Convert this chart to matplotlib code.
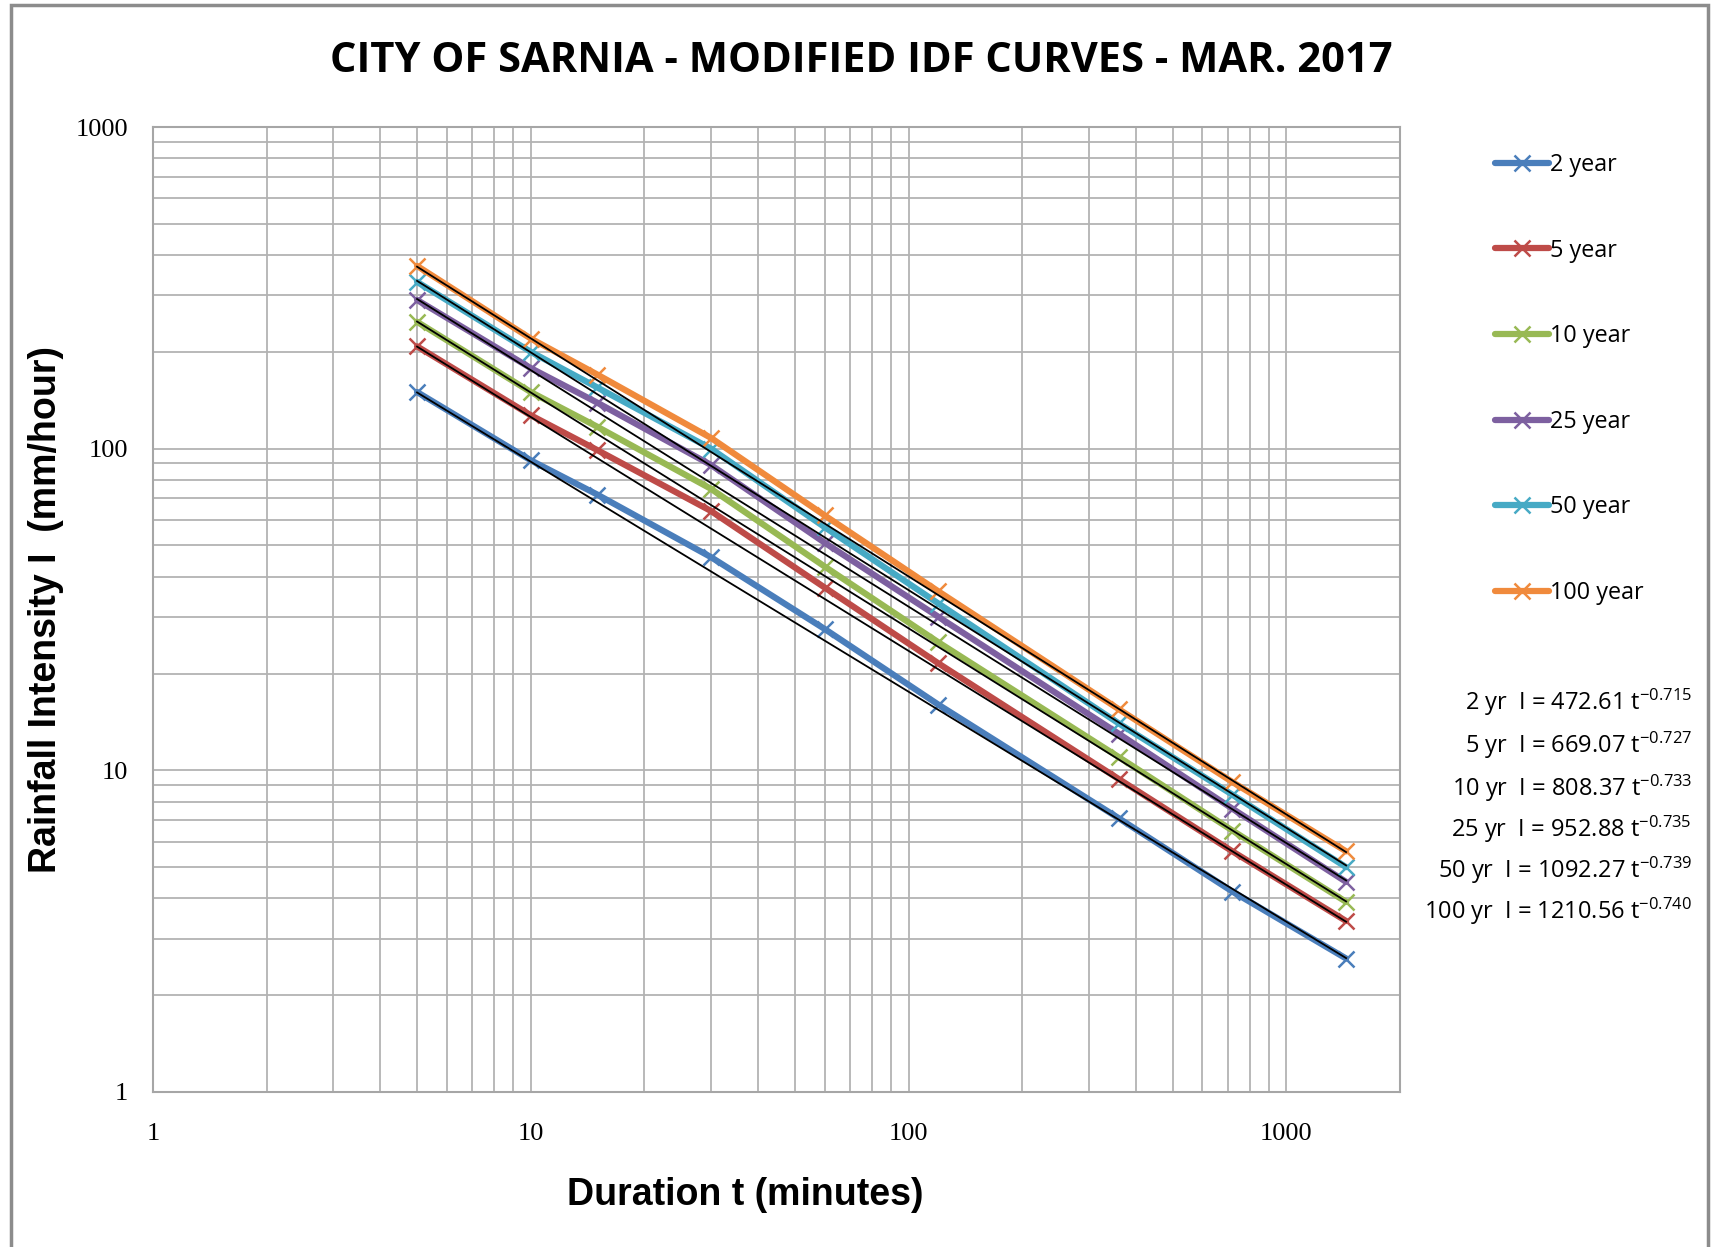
import matplotlib
matplotlib.use("Agg")
import matplotlib.pyplot as plt
from matplotlib.patches import Rectangle
import numpy as np

# durations (minutes) and intensities (mm/hour)
durations = [5, 10, 15, 30, 60, 120, 360, 720, 1440]
i_2yr = [150, 92, 72, 46, 27.5, 16, 7.1, 4.2, 2.6]
i_5yr = [208, 127, 99, 64, 37, 21.5, 9.4, 5.6, 3.4]
i_10yr = [248, 150, 117, 75, 43, 25, 11, 6.5, 3.9]
i_25yr = [290, 178, 139, 89, 51, 30, 13, 7.6, 4.5]
i_50yr = [330, 200, 155, 100, 57, 33, 14, 8.4, 5.0]
i_100yr = [370, 220, 170, 108, 62, 36, 15.5, 9.2, 5.6]

labels = ["2 year", "5 year", "10 year", "25 year", "50 year", "100 year"]
colors = ["#4a7ebb", "#be4b48", "#98b954", "#7d60a0", "#46aac5", "#f08a3c"]

# fitted power curves I = a * t^-b (shown on the chart)
fit_a = [472.61, 669.07, 808.37, 952.88, 1092.27, 1210.56]
fit_b = [0.715, 0.727, 0.733, 0.735, 0.739, 0.740]
fit_names = ["2 yr", "5 yr", "10 yr", "25 yr", "50 yr", "100 yr"]

W, H = 1711, 1247
fig = plt.figure(figsize=(W / 100, H / 100), dpi=100)
ax = fig.add_axes([153 / W, 1 - 1092 / H, (1400 - 153) / W, (1092 - 127) / H])

series = [i_2yr, i_5yr, i_10yr, i_25yr, i_50yr, i_100yr]
handles = []
for vals, lab, c in zip(series, labels, colors):
    h, = ax.plot(durations, vals, color=c, lw=4.5, marker="x", ms=11, mew=1.8,
                 label=lab, zorder=3, solid_capstyle="round")
    handles.append(h)

# black trendlines
t_end = np.array([durations[0], durations[-1]], dtype=float)
for a, b in zip(fit_a, fit_b):
    ax.plot(t_end, a * t_end ** (-b), color="black", lw=1.3, zorder=4)

ax.set_xscale("log")
ax.set_yscale("log")
ax.set_xlim(1, 2000)
ax.set_ylim(1, 1000)

ax.grid(True, which="both", color="#b3b3b3", lw=1.3)
ax.set_axisbelow(True)
for s in ax.spines.values():
    s.set_color("#a6a6a6")
    s.set_linewidth(1.5)

ax.set_xticks([1, 10, 100, 1000])
ax.set_xticklabels(["1", "10", "100", "1000"])
ax.set_yticks([1, 10, 100, 1000])
ax.set_yticklabels(["1", "10", "100", "1000"])
ax.tick_params(which="both", length=0)
ax.tick_params(axis="x", pad=22)
ax.tick_params(axis="y", pad=18)
for t in ax.get_xticklabels() + ax.get_yticklabels():
    t.set_fontfamily("Liberation Serif")
    t.set_fontsize(19)

ax.set_xlabel("Duration t (minutes)", fontfamily="Liberation Sans", fontweight="bold",
              fontsize=27)
ax.set_ylabel("Rainfall Intensity I  (mm/hour)", fontfamily="Liberation Sans",
              fontweight="bold", fontsize=27)
ax.xaxis.set_label_coords(0.475, -(1195 - 1092) / 965)
ax.yaxis.set_label_coords(-(153 - 46) / 1247, 0.5)
ax.xaxis.label.set_va("center")
ax.yaxis.label.set_va("center")

fig.text(861 / W, 1 - 61 / H, "CITY OF SARNIA - MODIFIED IDF CURVES - MAR. 2017",
         ha="center", va="center", fontsize=30, fontweight="bold",
         fontfamily=["Liberation Sans Narrow", "Open Sans"])

leg = fig.legend(handles=handles, loc="upper left", bbox_to_anchor=(1474 / W, 1 - 132 / H),
                 frameon=False, prop={"family": "Open Sans", "size": 16.8},
                 labelspacing=2.64, handlelength=2.32, handletextpad=0.05)

eq_y = [702, 745, 788, 829, 870, 911]
for name, a, b, y in zip(fit_names, fit_a, fit_b, eq_y):
    fig.text(1692 / W, 1 - y / H,
             name + "  I = " + f"{a:.2f}" + r" $\mathregular{t^{-" + f"{b:.3f}" + "}}$",
             ha="right", va="center", fontsize=17, fontfamily="Open Sans")

fig.patches.append(Rectangle((11 / W, -0.01), (1708 - 11) / W, 1.01 - 5 / H,
                             transform=fig.transFigure, fill=False,
                             edgecolor="#8c8c8c", lw=2.5))

fig.savefig("out.png", dpi=100)
